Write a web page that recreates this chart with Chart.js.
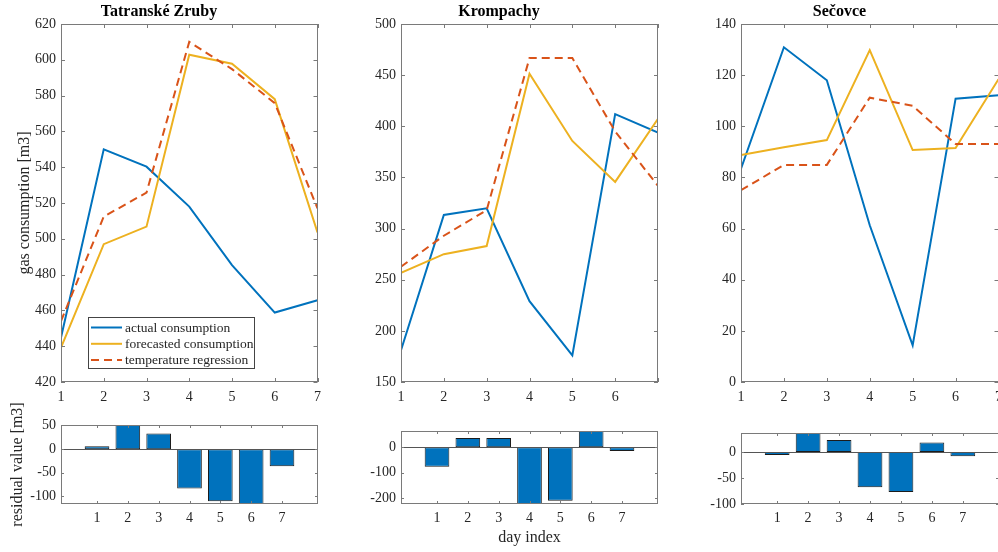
<!DOCTYPE html>
<html>
<head>
<meta charset="utf-8">
<script src="https://cdn.jsdelivr.net/npm/chart.js@4.4.1/dist/chart.umd.min.js"></script>
<style>
html, body { margin: 0; padding: 0; background: #fff; width: 998px; height: 552px; overflow: hidden; position: relative; }
canvas { position: absolute; }
</style>
</head>
<body>
<canvas id="line1" width="328" height="404" style="left:0px;top:0px"></canvas>
<canvas id="line2" width="328" height="404" style="left:340px;top:0px"></canvas>
<canvas id="line3" width="329" height="404" style="left:680px;top:0px"></canvas>
<canvas id="bar1" width="328" height="156" style="left:0px;top:396px"></canvas>
<canvas id="bar2" width="328" height="156" style="left:340px;top:396px"></canvas>
<canvas id="bar3" width="329" height="156" style="left:680px;top:396px"></canvas>
<script>
// days and series names
var days = [1, 2, 3, 4, 5, 6, 7];
var seriesNames = ['actual consumption', 'forecasted consumption', 'temperature regression'];

// Tatranské Zruby
var actualZruby = [444.8, 550, 540.3, 518, 485.3, 458.8, 465.7];
var forecastZruby = [439.2, 497, 506.8, 602.8, 597.8, 578, 503.6];
var regressionZruby = [454, 512.4, 525.8, 610, 594.8, 575.8, 517];
var residualZruby = [6, 51, 33, -83, -110, -116, -36];

// Krompachy
var actualKrompachy = [181, 313.3, 319.8, 229, 176, 411.9, 393.9];
var forecastKrompachy = [256.8, 275, 282.9, 451.4, 385.7, 345.6, 407.3];
var regressionKrompachy = [262.7, 293, 318, 466.7, 466.7, 395, 341.7];
var residualKrompachy = [-77, 36, 36, -222, -209, 63, -15];

// Sečovce
var actualSecovce = [83.4, 130.9, 118, 61.3, 14.3, 110.8, 112.1];
var forecastSecovce = [88.8, 91.8, 94.6, 129.8, 90.7, 91.5, 118.4];
var regressionSecovce = [75, 84.9, 84.9, 111.2, 108, 93.1, 93.1];
var residualSecovce = [-6, 36.5, 23, -68, -77, 18, -8];

// axis limits [min, max, step]
var limZruby = [420, 620, 20];
var limKrompachy = [150, 500, 50];
var limSecovce = [0, 140, 20];
var limResZruby = [-116, 51, 50];
var limResKrompachy = [-222, 63, 100];
var limResSecovce = [-100, 36.5, 50];
var barXLim = [-0.168, 8.168];

var FONT = '"Liberation Serif", "Times New Roman", serif';
var TEXT = '#262626';
var BLUE = '#0072BD', YELLOW = '#EDB120', RED = '#D95319';

function pairs(ys) {
    return days.map(function (d, i) { return { x: d, y: ys[i] }; });
}

// MATLAB-like box with inward ticks on all four sides
var boxPlugin = {
    id: 'matlabBox',
    afterDraw: function (chart, args, opts) {
        var ctx = chart.ctx, a = chart.chartArea, len = opts.tickLen;
        var xs = chart.scales.x, ys = chart.scales.y;
        ctx.save();
        ctx.lineWidth = 1;
        if (opts.zeroLine) {
            var zy = Math.round(ys.getPixelForValue(0)) + 0.5;
            ctx.strokeStyle = '#555';
            ctx.beginPath(); ctx.moveTo(a.left, zy); ctx.lineTo(a.right, zy); ctx.stroke();
        }
        ctx.strokeStyle = '#7a7a7a';
        ctx.beginPath();
        xs.ticks.forEach(function (t) {
            var px = Math.round(xs.getPixelForValue(t.value)) + 0.5;
            ctx.moveTo(px, a.bottom); ctx.lineTo(px, a.bottom - len);
            ctx.moveTo(px, a.top); ctx.lineTo(px, a.top + len);
        });
        ys.ticks.forEach(function (t) {
            var py = Math.round(ys.getPixelForValue(t.value)) + 0.5;
            ctx.moveTo(a.left, py); ctx.lineTo(a.left + len, py);
            ctx.moveTo(a.right, py); ctx.lineTo(a.right - len, py);
        });
        ctx.stroke();
        ctx.strokeRect(Math.round(a.left) + 0.5, Math.round(a.top) + 0.5,
            Math.round(a.width) - 1, Math.round(a.height) - 1);
        ctx.restore();
    }
};

// legend drawn inside the plot area
var legendPlugin = {
    id: 'boxLegend',
    afterDraw: function (chart, args, opts) {
        if (!opts.display) return;
        var ctx = chart.ctx, a = chart.chartArea;
        var x = a.left + 27, y = a.bottom - 14 - 51, w = 166, h = 51;
        ctx.save();
        ctx.fillStyle = '#fff';
        ctx.fillRect(x, y, w, h);
        ctx.strokeStyle = '#444';
        ctx.lineWidth = 1;
        ctx.strokeRect(x + 0.5, y + 0.5, w, h);
        ctx.font = '13.5px ' + FONT;
        ctx.textBaseline = 'middle';
        ctx.textAlign = 'left';
        chart.data.datasets.forEach(function (ds, i) {
            var ry = y + 10.5 + i * 16.3;
            ctx.strokeStyle = ds.borderColor;
            ctx.lineWidth = ds.borderWidth;
            ctx.setLineDash(ds.borderDash || []);
            ctx.beginPath(); ctx.moveTo(x + 3, ry); ctx.lineTo(x + 34, ry); ctx.stroke();
            ctx.setLineDash([]);
            ctx.fillStyle = TEXT;
            ctx.fillText(ds.label, x + 37, ry + 0.5);
        });
        ctx.restore();
    }
};

function fixWidth(w) { return function (s) { s.width = w; }; }
function fixHeight(h) { return function (s) { s.height = h; }; }

var noGrid = { display: false, drawTicks: false };

function linePanel(id, title, actual, forecast, regression, lim, yTitle, hideLast, legend) {
    new Chart(document.getElementById(id), {
        type: 'line',
        data: {
            datasets: [
                { label: seriesNames[0], data: pairs(actual), borderColor: BLUE, borderWidth: 2, pointRadius: 0, order: 2 },
                { label: seriesNames[1], data: pairs(forecast), borderColor: YELLOW, borderWidth: 2, pointRadius: 0, order: 1 },
                { label: seriesNames[2], data: pairs(regression), borderColor: RED, borderWidth: 2, borderDash: [8, 5], pointRadius: 0, order: 0 }
            ]
        },
        options: {
            responsive: false,
            animation: false,
            devicePixelRatio: 1,
            layout: { padding: { left: 0, right: 10, top: 0, bottom: 0 } },
            plugins: {
                legend: { display: false },
                tooltip: { enabled: false },
                title: { display: true, text: title, color: '#000', font: { family: FONT, size: 16, weight: 'bold', lineHeight: 1.2 }, padding: { top: 2, bottom: 2.8 } },
                matlabBox: { tickLen: 4 },
                boxLegend: { display: legend }
            },
            scales: {
                x: {
                    type: 'linear', min: 1, max: 7,
                    grid: noGrid, border: { display: false },
                    ticks: { stepSize: 1, padding: 7, color: TEXT, font: { family: FONT, size: 14 },
                        callback: function (v) { return (hideLast && v === 7) ? '' : v; } },
                    afterFit: fixHeight(22)
                },
                y: {
                    min: lim[0], max: lim[1],
                    grid: noGrid, border: { display: false },
                    ticks: { stepSize: lim[2], padding: 5, color: TEXT, font: { family: FONT, size: 14 } },
                    title: { display: !!yTitle, text: yTitle || '', color: TEXT, font: { family: FONT, size: 16, lineHeight: 1.2 }, padding: 15.4 },
                    afterFit: fixWidth(61)
                }
            }
        },
        plugins: [boxPlugin, legendPlugin]
    });
}

function barPanel(id, residual, lim, padTop, yTitle, xTitle) {
    new Chart(document.getElementById(id), {
        type: 'bar',
        data: {
            datasets: [{
                data: pairs(residual),
                backgroundColor: BLUE, borderColor: '#1c1c1c', borderWidth: 1, borderSkipped: false,
                barPercentage: 0.8, categoryPercentage: 1
            }]
        },
        options: {
            responsive: false,
            animation: false,
            devicePixelRatio: 1,
            layout: { padding: { left: 0, right: 10, top: padTop, bottom: 0 } },
            plugins: {
                legend: { display: false },
                tooltip: { enabled: false },
                matlabBox: { tickLen: 3, zeroLine: true },
                boxLegend: { display: false }
            },
            scales: {
                x: {
                    type: 'linear', min: barXLim[0], max: barXLim[1], offset: false,
                    grid: noGrid, border: { display: false },
                    afterBuildTicks: function (s) { s.ticks = days.map(function (d) { return { value: d }; }); },
                    ticks: { padding: 6, color: TEXT, font: { family: FONT, size: 14 } },
                    title: { display: !!xTitle, text: xTitle || '', color: TEXT, font: { family: FONT, size: 16, lineHeight: 1.2 }, padding: { top: 0, bottom: 4.4 } },
                    afterFit: fixHeight(48)
                },
                y: {
                    min: lim[0], max: lim[1],
                    grid: noGrid, border: { display: false },
                    ticks: { stepSize: lim[2], includeBounds: false, padding: 5, color: TEXT, font: { family: FONT, size: 14 } },
                    title: { display: !!yTitle, text: yTitle || '', color: TEXT, font: { family: FONT, size: 16, lineHeight: 1.2 }, padding: 8.4 },
                    afterFit: fixWidth(61)
                }
            }
        },
        plugins: [boxPlugin]
    });
}

linePanel('line1', 'Tatranské Zruby', actualZruby, forecastZruby, regressionZruby, limZruby, 'gas consumption [m3]', false, true);
linePanel('line2', 'Krompachy', actualKrompachy, forecastKrompachy, regressionKrompachy, limKrompachy, null, true, false);
linePanel('line3', 'Sečovce', actualSecovce, forecastSecovce, regressionSecovce, limSecovce, null, false, false);

barPanel('bar1', residualZruby, limResZruby, 29, 'residual value [m3]', null);
barPanel('bar2', residualKrompachy, limResKrompachy, 35, null, 'day index');
barPanel('bar3', residualSecovce, limResSecovce, 37, null, null);
</script>
</body>
</html>
